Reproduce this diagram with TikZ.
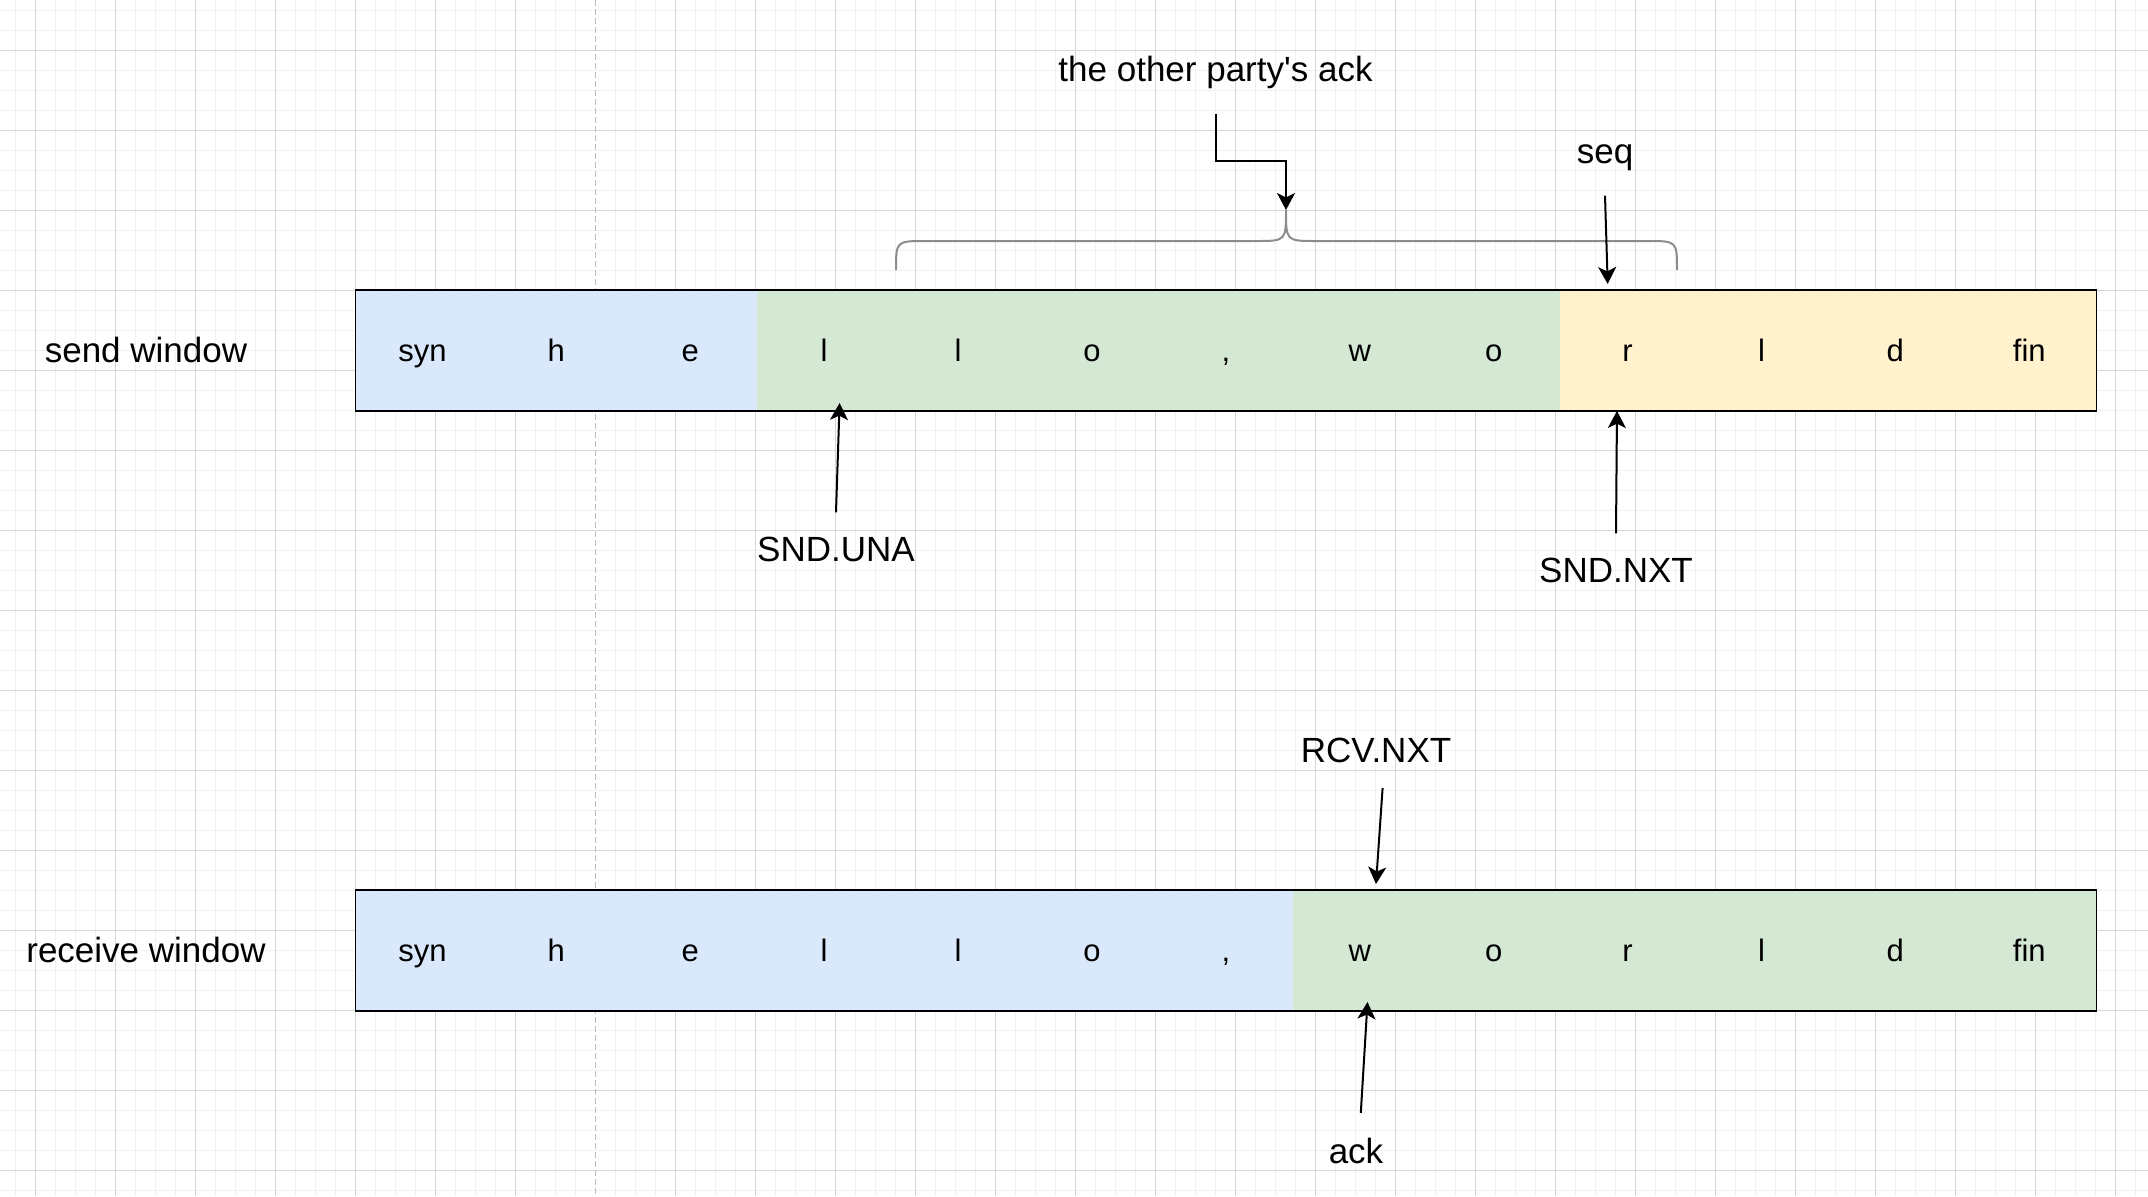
\documentclass[tikz,border=0pt]{standalone}
\usepackage{fontspec}
\setmainfont{Liberation Sans}
\usetikzlibrary{arrows.meta}
\definecolor{swink}{HTML}{000000}
\definecolor{swblue}{HTML}{DAE8FC}
\definecolor{swgreen}{HTML}{D5E8D4}
\definecolor{swyellow}{HTML}{FFF2CC}
\definecolor{swbrace}{HTML}{8C8C8C}
\definecolor{swgridmajor}{HTML}{D6D6D6}
\definecolor{swgridminor}{HTML}{F1F1F1}
\definecolor{swpage}{HTML}{BBBBBB}
\tikzset{
  sw cell/.style={minimum width=67.1pt, minimum height=60.5pt, inner sep=0pt, outer sep=0pt,
    text height=11pt, text depth=0pt, text=swink, font=\fontsize{15.5}{18}\selectfont},
  sw frame/.style={draw=swink, line width=0.8pt},
  sw label/.style={font=\fontsize{17.5}{21}\selectfont, text=swink, anchor=base,
    inner sep=0pt, outer sep=12.5pt},
  sw ptr/.style={-{Stealth[length=8.5pt,width=9pt,inset=2.2pt]}, line width=1pt, draw=swink},
  sw brace/.style={draw=swbrace, line width=1pt},
  sw grid minor/.style={draw=swgridminor, line width=0.5pt},
  sw grid major/.style={draw=swgridmajor, line width=0.5pt},
  sw page/.style={draw=swpage, line width=0.6pt, dash pattern=on 3pt off 1.5pt}
}

\begin{document}
\begin{tikzpicture}[x=0.5pt, y=-0.5pt]
  \useasboundingbox (0,0) rectangle (2148,1196);
  % grid
  \foreach \gx in {15.5,35.5,...,2148} \draw[sw grid minor] (\gx,0) -- (\gx,1196);
  \foreach \gy in {10,30,...,1196} \draw[sw grid minor] (0,\gy) -- (2148,\gy);
  \foreach \gx in {35.5,115.5,...,2148} \draw[sw grid major] (\gx,0) -- (\gx,1196);
  \foreach \gy in {50,130,...,1196} \draw[sw grid major] (0,\gy) -- (2148,\gy);
  \draw[white, line width=0.8pt] (595.5,0) -- (595.5,1196);
  \draw[sw page] (595.5,0) -- (595.5,1196);

  % send window
  \node[sw label] (sndname) at (146,362.7) {send window};
  \foreach \ch/\col [count=\i from 0] in {syn/swblue,h/swblue,e/swblue,l/swgreen,l/swgreen,o/swgreen,
      {,}/swgreen,w/swgreen,o/swgreen,r/swyellow,l/swyellow,d/swyellow,fin/swyellow}
    \node[sw cell, fill=\col] (snd\i) at (422.45+133.9*\i,350.5) {\ch};
  \draw[sw frame] (snd0.north west) rectangle (snd12.south east);

  % receive window
  \node[sw label] (rcvname) at (146,962.5) {receive window};
  \foreach \ch/\col [count=\i from 0] in {syn/swblue,h/swblue,e/swblue,l/swblue,l/swblue,o/swblue,
      {,}/swblue,w/swgreen,o/swgreen,r/swgreen,l/swgreen,d/swgreen,fin/swgreen}
    \node[sw cell, fill=\col] (rcv\i) at (422.45+133.9*\i,950.5) {\ch};
  \draw[sw frame] (rcv0.north west) rectangle (rcv12.south east);

  % pointers
  \node[sw label] (otherack) at (1215.5,81.7) {the other party\textquotesingle s ack};
  \node[sw label] (seqlbl) at (1605,163.3) {seq};
  \node[sw label] (sndunalbl) at (836,561.7) {SND.UNA};
  \node[sw label] (sndnxtlbl) at (1616,582.7) {SND.NXT};
  \node[sw label] (rcvnxtlbl) at (1376,762.7) {RCV.NXT};
  \node[sw label] (acklbl) at (1356,1163.3) {ack};
  \coordinate (bracetip) at (1286,210);
  \coordinate (seqtip) at (1607.7,284);
  \coordinate (unatip) at (839.6,403);
  \coordinate (nxttip) at (1617,411);
  \coordinate (rcvtip) at (1376,884);
  \coordinate (acktip) at (1367.5,1002);

  \draw[sw brace] (896,270) .. controls (896,241) .. (926,241) -- (1256,241)
    .. controls (1286,241) .. (bracetip) .. controls (1286,241) .. (1316,241)
    -- (1647,241) .. controls (1677,241) .. (1677,270);
  \draw[sw ptr] (otherack.south) -- ++(0,47) -| (bracetip);
  \draw[sw ptr] (seqlbl.south) -- (seqtip);
  \draw[sw ptr] (sndunalbl.north) -- (unatip);
  \draw[sw ptr] (sndnxtlbl.north) -- (nxttip);
  \draw[sw ptr] ([xshift=3.3pt]rcvnxtlbl.south) -- (rcvtip);
  \draw[sw ptr] ([xshift=2.4pt]acklbl.north) -- (acktip);
\end{tikzpicture}
\end{document}
